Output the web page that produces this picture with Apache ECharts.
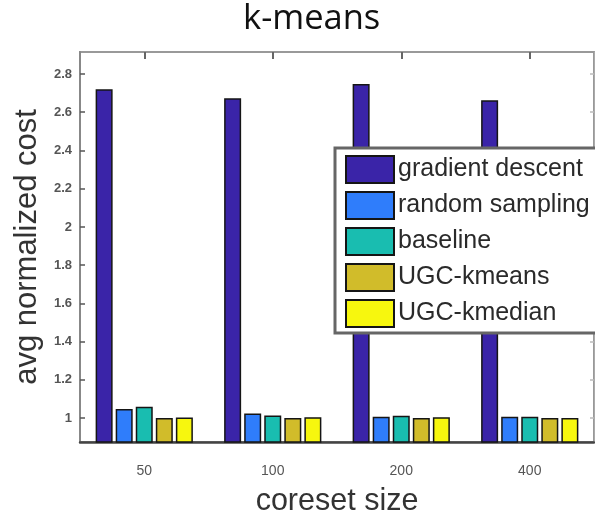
<!DOCTYPE html>
<html>
<head>
<meta charset="utf-8">
<script src="https://cdn.jsdelivr.net/npm/echarts@6/dist/echarts.min.js"></script>
<style>html,body{margin:0;padding:0;background:#fff}#c{width:595px;height:522px}</style>
</head>
<body>
<div id="c"></div>
<script>
const categories = ['50', '100', '200', '400'];
const seriesNames = ['gradient descent', 'random sampling', 'baseline', 'UGC-kmeans', 'UGC-kmedian'];
const gradientDescent = [2.72, 2.673, 2.748, 2.662];
const randomSampling = [1.047, 1.024, 1.007, 1.007];
const baseline = [1.059, 1.014, 1.012, 1.007];
const ugcKmeans = [1.0, 1.0, 1.0, 1.0];
const ugcKmedian = [1.003, 1.005, 1.005, 1.0];
const yTicks = [1, 1.2, 1.4, 1.6, 1.8, 2, 2.2, 2.4, 2.6, 2.8];
const colors = ['#3a24a8', '#2f7dfb', '#19bdb0', '#d1bc2a', '#f7f70e'];

const values = [gradientDescent, randomSampling, baseline, ugcKmeans, ugcKmedian];
const chart = echarts.init(document.getElementById('c'), null, {renderer: 'canvas'});
chart.setOption({
  animation: false,
  backgroundColor: '#fff',
  title: {
    text: 'k-means', left: 243, top: 2, padding: [0, 0, 0, 0],
    textStyle: {fontFamily: 'Open Sans', fontSize: 34.5, fontWeight: 'normal', color: '#111'}
  },
  legend: {
    orient: 'vertical', left: 335, top: 148,
    padding: [7, 10, 5, 10], itemGap: 7, itemWidth: 48, itemHeight: 27,
    backgroundColor: '#fff', borderColor: '#666', borderWidth: 3,
    icon: 'rect',
    textStyle: {fontFamily: 'Liberation Sans', fontSize: 25, color: '#2a2a2a', padding: [0, 0, 0, -1]},
    data: seriesNames
  },
  grid: {left: 80, right: 1, top: 52, bottom: 79, containLabel: false, show: true, borderColor: '#999', borderWidth: 2, backgroundColor: 'transparent'},
  xAxis: [{
    type: 'category', data: categories, position: 'bottom',
    axisLine: {lineStyle: {color: '#444', width: 2.5}},
    axisTick: {show: false},
    axisLabel: {margin: 22, fontFamily: 'Liberation Sans', fontSize: 14, color: '#555'},
    name: 'coreset size', nameLocation: 'middle', nameGap: 44,
    nameTextStyle: {fontFamily: 'Liberation Sans', fontSize: 30.5, color: '#333'}
  }, {
    type: 'category', data: categories, position: 'top', offset: -7,
    axisLine: {show: false},
    axisTick: {show: true, inside: false, alignWithLabel: true, length: 7, lineStyle: {color: '#666', width: 2}},
    axisLabel: {show: true, color: 'rgba(0,0,0,0)'}
  }],
  yAxis: [{
    type: 'value', min: 0.875, max: 2.915, position: 'left',
    splitLine: {show: false},
    axisLine: {show: true, lineStyle: {color: '#888', width: 2}},
    axisTick: {show: true, inside: true, length: 5, customValues: yTicks, lineStyle: {color: '#555', width: 1.5}},
    axisLabel: {customValues: yTicks, margin: 8, fontFamily: 'Liberation Sans', fontSize: 13, color: '#555', fontWeight: 'bold'},
    name: 'avg normalized cost', nameLocation: 'middle', nameGap: 28,
    nameTextStyle: {fontFamily: 'Liberation Sans', fontSize: 31, color: '#333'}
  }, {
    type: 'value', min: 0.875, max: 2.915, position: 'right',
    splitLine: {show: false},
    axisLine: {show: true, lineStyle: {color: '#aaa', width: 1}},
    axisTick: {show: true, inside: true, length: 4, customValues: yTicks, lineStyle: {color: '#bbb', width: 1.5}},
    axisLabel: {show: false}
  }],
  series: seriesNames.map((n, i) => ({
    name: n, type: 'bar', data: values[i],
    barWidth: 17, barGap: '18%',
    itemStyle: {color: colors[i], borderColor: '#151515', borderWidth: 1.5}
  }))
});
</script>
</body>
</html>
